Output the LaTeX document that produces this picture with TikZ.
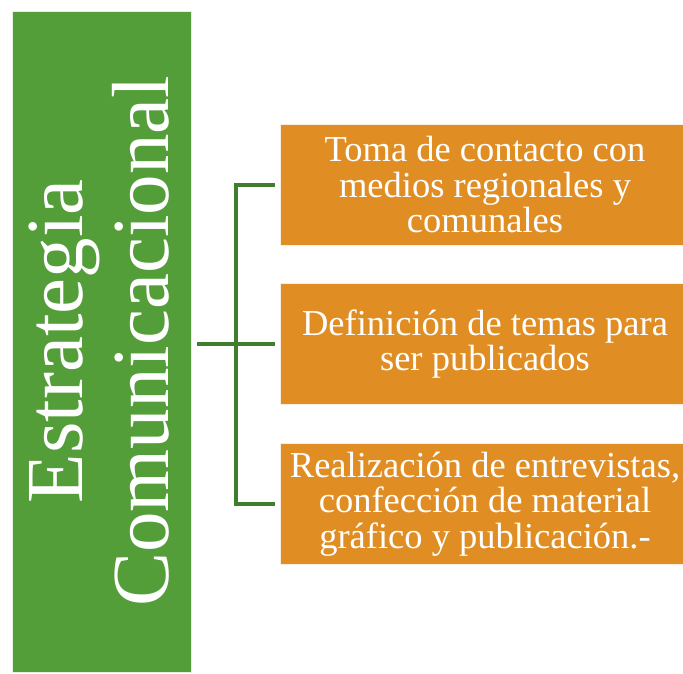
\documentclass[tikz,border=0pt]{standalone}
\usepackage{fontspec}
\setmainfont{Liberation Serif}
\usepackage{graphicx}
\usetikzlibrary{positioning, calc}
\definecolor{stratgreen}{RGB}{84,158,57}
\definecolor{linkgreen}{RGB}{64,125,45}
\definecolor{taskorange}{RGB}{224,142,36}
\begin{document}
\begin{tikzpicture}[x=1pt, y=-1pt,
  task/.style={fill=taskorange, draw=white!85!taskorange, line width=0.8pt, text=white,
    minimum width=410pt, minimum height=121pt, align=center,
    font=\fontsize{36.5}{35.5}\selectfont},
  link/.style={draw=linkgreen, line width=3.5pt}]
  \useasboundingbox (0,0) rectangle (683,673);
  \node[fill=stratgreen, draw=white!85!stratgreen, line width=0.8pt, minimum width=179pt, minimum height=661pt] (strat) at (101.5,341.5) {};
  \node[text=white, font=\fontsize{81}{85}\selectfont, xshift=7pt] (stratlabel) at (strat.center)
    {\rotatebox{90}{\begin{tabular}{@{}c@{}}Estrategia\\Comunicacional\end{tabular}}};

  \node[task] (t1) at (485,185) {Toma de contacto con\\medios regionales y\\comunales};
  \node[task] (t2) at (485,344) {Definición de temas para\\ser publicados};
  \node[task] (t3) at (485,504) {Realización de entrevistas,\\confección de material\\gráfico y publicación.-};

  \coordinate (bus) at (236,344);
  \draw[link] ($(strat.east |- t2.west)+(6,0)$) -- ($(t2.west)-(5,0)$);
  \draw[link] ($(t1.west)-(5,0)$) -| (bus) |- ($(t3.west)-(5,0)$);
\end{tikzpicture}
\end{document}
